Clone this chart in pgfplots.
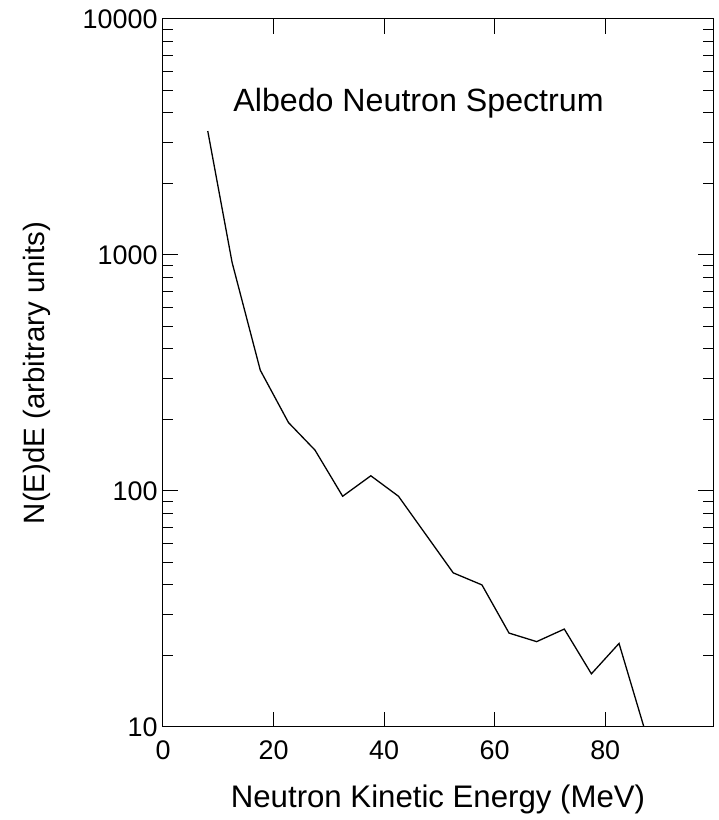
\documentclass[border=0pt]{standalone}
\usepackage{fontspec}
\setmainfont{Liberation Sans}
\usepackage{pgfplots}
\pgfplotsset{compat=1.18}

\begin{document}
\begin{tikzpicture}
\begin{axis}[
    scale only axis,
    width=550bp, height=708bp,
    ymode=log,
    xmin=0, xmax=99.5,
    ymin=10, ymax=10000,
    xtick={0,20,40,60,80},
    ytick={10,100,1000,10000},
    yticklabels={10,100,1000,10000},
    minor ytick={20,30,40,50,60,70,80,90,200,300,400,500,600,700,800,900,2000,3000,4000,5000,6000,7000,8000,9000},
    tick align=inside,
    major tick length=15bp,
    minor tick length=10bp,
    axis line style={line width=1bp},
    every tick/.style={black, line width=1bp},
    /pgf/number format/assume math mode=true,
    tick label style={font=\fontsize{27}{30}\selectfont},
    xticklabel style={yshift=-10bp},
    yticklabel style={xshift=-2bp},
    xlabel={Neutron Kinetic Energy (MeV)},
    ylabel={N(E)dE (arbitrary units)},
    xlabel style={font=\fontsize{31.3}{35}\selectfont, at={(axis description cs:0.5,-0.1144)}, anchor=base},
    ylabel style={font=\fontsize{29.5}{33}\selectfont, at={(axis description cs:-0.229,0.5)}, anchor=center},
]
\addplot[black, line width=1.3bp] coordinates {
    (8.1,3350)
    (12.5,930)
    (17.6,325)
    (22.7,195)
    (27.5,149)
    (32.5,95)
    (37.6,116)
    (42.6,95)
    (52.5,45)
    (57.7,40)
    (62.6,25)
    (67.6,23)
    (72.6,26)
    (77.5,16.8)
    (82.5,22.6)
    (87.0,10)
};
\node[anchor=base west, inner sep=0pt, font=\fontsize{32.3}{36}\selectfont]
    at (axis cs:12.7,4040) {Albedo Neutron Spectrum};
\coordinate (sw) at (axis description cs:0,0);
\coordinate (ne) at (axis description cs:1,1);
\end{axis}
\path ([shift={(-163bp,-93bp)}]sw) rectangle ([shift={(6bp,19bp)}]ne);
\end{tikzpicture}
\end{document}
